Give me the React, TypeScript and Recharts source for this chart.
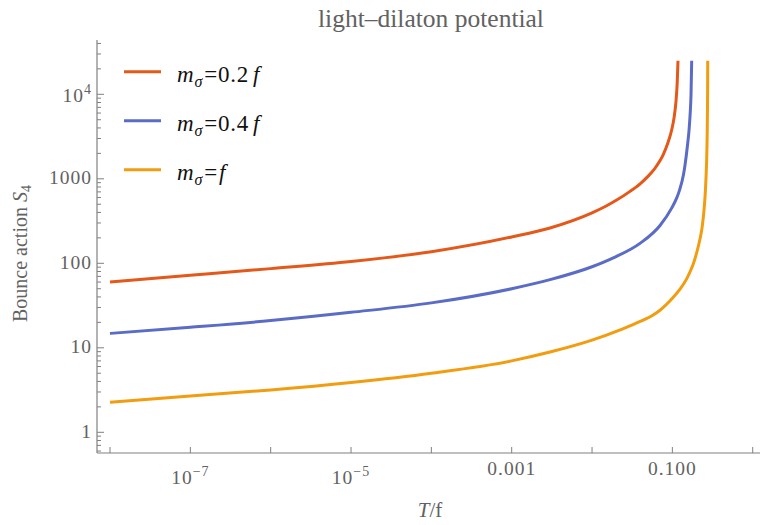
import React from 'react';
import { LineChart, Line, XAxis, YAxis, Legend } from 'recharts';

// ---- data -------------------------------------------------------------
// Temperature T/f samples and bounce action S4 for each dilaton mass.
const tLight = [1e-8, 1e-7, 1e-6, 1e-5, 1e-4, 1e-3, 3e-3, 1e-2, 0.015, 0.02, 0.03, 0.04, 0.05, 0.06, 0.07, 0.077, 0.088, 0.098, 0.105, 0.111, 0.115, 0.1175];
const sLight = [60, 72, 86.5, 105, 137, 205, 262, 395, 476, 556, 715, 879, 1075, 1313, 1630, 1935, 2667, 3780, 5300, 8300, 14000, 25000];

const tMid = [1e-8, 1e-7, 1e-6, 1e-5, 1e-4, 1e-3, 3e-3, 1e-2, 0.0184, 0.0395, 0.0702, 0.098, 0.113, 0.122, 0.137, 0.1436, 0.155, 0.161, 0.166, 0.1707, 0.174];
const sMid = [14.8, 17.5, 21, 26.3, 34, 50, 64, 91, 116, 172, 280, 450, 590, 720, 1100, 1450, 2600, 3700, 5600, 10000, 25000];

const tHeavy = [1e-8, 1e-7, 1e-6, 1e-5, 1e-4, 1e-3, 3e-3, 1e-2, 0.0224, 0.0398, 0.0583, 0.0695, 0.1, 0.1245, 0.15, 0.174, 0.182, 0.2, 0.221, 0.235, 0.2494, 0.2574, 0.263, 0.2678, 0.2715, 0.2737, 0.2748, 0.2755];
const sHeavy = [2.27, 2.69, 3.17, 3.88, 5.0, 7.0, 8.9, 12.3, 16.3, 20.5, 24.6, 27.6, 38.5, 49.5, 65, 88, 98, 132, 195, 270, 460, 700, 1100, 1800, 3500, 7000, 12000, 25000];

// Axis ticks and their labels ('' = tick without label)
const xTickValues = [1e-8, 1e-7, 1e-6, 1e-5, 1e-4, 1e-3, 1e-2, 1e-1, 1];
const xTickLabels = ['', '10^\u22127', '', '10^\u22125', '', '0.001', '', '0.100', ''];
const yMajorValues = [1, 10, 100, 1000, 10000];
const yMajorLabels = ['1', '10', '100', '1000', '10^4'];
const yMinorValues = [
  0.6, 0.7, 0.8, 0.9,
  2, 3, 4, 5, 6, 7, 8, 9,
  20, 30, 40, 50, 60, 70, 80, 90,
  200, 300, 400, 500, 600, 700, 800, 900,
  2000, 3000, 4000, 5000, 6000, 7000, 8000, 9000,
  20000, 30000, 40000,
];

const massLabels = ['0.2', '0.4', ''];
const seriesColors = ['#E4581A', '#5A6CC6', '#F29C10'];
const chartTitle = 'light–dilaton potential';

// ---- layout constants -----------------------------------------------
const W = 766;
const H = 525;
const PLOT_TOP = 40;
const Y_AXIS_W = 97;
const X_AXIS_H = 72;
const X_DOMAIN: [number, number] = [Math.pow(10, -8.162), Math.pow(10, 0.1655)];
const Y_DOMAIN: [number, number] = [Math.pow(10, -0.245), Math.pow(10, 4.6426)];

const FONT = "'Liberation Serif', 'Times New Roman', Tinos, 'DejaVu Serif', 'Noto Serif', serif";
const INK = '#626262';
const FRAME = '#808080';
const serifStyle = { fontFamily: FONT } as React.CSSProperties;

const toRows = (ts: number[], ss: number[]) => ts.map((t, i) => ({ t, s: ss[i] }));
const series = [
  { id: 'light', data: toRows(tLight, sLight), color: seriesColors[0], mass: massLabels[0] },
  { id: 'mid', data: toRows(tMid, sMid), color: seriesColors[1], mass: massLabels[1] },
  { id: 'heavy', data: toRows(tHeavy, sHeavy), color: seriesColors[2], mass: massLabels[2] },
];

const near = (a: number, b: number) => Math.abs(a - b) <= Math.abs(b) * 1e-6;

function TickText({ label, x, y, anchor }: { label: string; x: number; y: number; anchor: 'middle' | 'end' }) {
  if (label.includes('^')) {
    const [base, exp] = label.split('^');
    return (
      <text x={x} y={y} textAnchor={anchor} style={serifStyle} fontSize={19.5} fill={INK} letterSpacing={1}>
        {base}
        <tspan dy={-8} fontSize={14}>{exp}</tspan>
      </text>
    );
  }
  return (
    <text x={x} y={y} textAnchor={anchor} style={serifStyle} fontSize={19.5} fill={INK} letterSpacing={1}>
      {label}
    </text>
  );
}

function BottomTick(props: any) {
  const { x, y, payload } = props;
  const idx = xTickValues.findIndex((v) => near(payload.value, v));
  const label = idx >= 0 ? xTickLabels[idx] : '';
  const power = label.includes('^');
  return (
    <g>
      <line x1={x} x2={x} y1={y} y2={y - 6} stroke={FRAME} strokeWidth={1} />
      {label && <TickText label={label} x={x} y={y + (power ? 31 : 22)} anchor="middle" />}
    </g>
  );
}

function TopTick(props: any) {
  const { x, y } = props;
  return <line x1={x} x2={x} y1={y} y2={y + 6} stroke={FRAME} strokeWidth={1} />;
}

function LeftTick(props: any) {
  const { x, y, payload } = props;
  const idx = yMajorValues.findIndex((v) => near(payload.value, v));
  const major = idx >= 0;
  const label = major ? yMajorLabels[idx] : '';
  const power = label.includes('^');
  return (
    <g>
      <line x1={x} x2={x + (major ? 7 : 4)} y1={y} y2={y} stroke={FRAME} strokeWidth={1} />
      {label && <TickText label={label} x={x - 5} y={y + (power ? 7.5 : 5.5)} anchor="end" />}
    </g>
  );
}

function RightTick(props: any) {
  const { x, y, payload } = props;
  const major = yMajorValues.some((v) => near(payload.value, v));
  return <line x1={x} x2={x - (major ? 7 : 4)} y1={y} y2={y} stroke={FRAME} strokeWidth={1} />;
}

// Legend entries plus the chart title, laid over the plot frame
function LegendBox() {
  return (
    <div style={{ position: 'relative', width: 0, height: 0 }}>
      <svg width={760} height={200} style={{ position: 'absolute', left: 0, top: 0, overflow: 'visible' }}>
        <text x={431} y={27} textAnchor="middle" style={serifStyle} fontSize={25.5} fill={INK}>
          {chartTitle}
        </text>
        {series.map((s, i) => {
          const y = 71.7 + i * 49;
          return (
            <g key={s.id}>
              <line x1={124} x2={161} y1={y} y2={y} stroke={s.color} strokeWidth={3} />
              <text x={177} y={y + 10} style={serifStyle} fontSize={23} fill="#111" letterSpacing={0.8}>
                <tspan fontStyle="italic">m</tspan>
                <tspan fontStyle="italic" fontSize={16} dy={5}>σ</tspan>
                <tspan dy={-5} dx={1}>=</tspan>
                {s.mass ? <tspan>{s.mass}</tspan> : null}
                <tspan fontStyle="italic" dx={s.mass ? 4 : 1}>f</tspan>
              </text>
            </g>
          );
        })}
      </svg>
    </div>
  );
}

function XTitle() {
  return (
    <text x={430} y={517} textAnchor="middle" style={serifStyle} fontSize={21} fill={INK}>
      <tspan fontStyle="italic">T</tspan>
      <tspan>/f</tspan>
    </text>
  );
}

function YTitle() {
  return (
    <text
      x={27}
      y={322}
      transform="rotate(-90, 27, 322)"
      textAnchor="start"
      style={serifStyle}
      fontSize={20}
      fill={INK}
    >
      Bounce action <tspan fontStyle="italic">S</tspan>
      <tspan fontSize={14} dy={4}>4</tspan>
    </text>
  );
}

export default function App() {
  return (
    <div style={{ position: 'absolute', left: 0, top: 0, width: 760, height: 525, overflow: 'hidden', background: '#fff' }}>
      <LineChart width={W} height={H} margin={{ top: PLOT_TOP, right: 0, bottom: 0, left: 0 }}>
        <XAxis
          xAxisId="bottom"
          dataKey="t"
          type="number"
          scale="log"
          domain={X_DOMAIN}
          allowDataOverflow
          ticks={xTickValues}
          interval={0}
          height={X_AXIS_H}
          tickSize={0}
          tickMargin={0}
          tickLine={false}
          axisLine={{ stroke: FRAME, strokeWidth: 1.2 }}
          tick={<BottomTick />}
          label={<XTitle />}
        />
        <XAxis
          xAxisId="top"
          orientation="top"
          dataKey="t"
          type="number"
          scale="log"
          domain={X_DOMAIN}
          allowDataOverflow
          ticks={xTickValues}
          interval={0}
          height={0}
          tickSize={0}
          tickMargin={0}
          tickLine={false}
          axisLine={{ stroke: FRAME, strokeWidth: 1.2 }}
          tick={<TopTick />}
        />
        <YAxis
          yAxisId="left"
          dataKey="s"
          type="number"
          scale="log"
          domain={Y_DOMAIN}
          allowDataOverflow
          ticks={[...yMajorValues, ...yMinorValues]}
          interval={0}
          width={Y_AXIS_W}
          tickSize={0}
          tickMargin={0}
          tickLine={false}
          axisLine={{ stroke: FRAME, strokeWidth: 1.2 }}
          tick={<LeftTick />}
          label={<YTitle />}
        />
        <YAxis
          yAxisId="right"
          orientation="right"
          dataKey="s"
          type="number"
          scale="log"
          domain={Y_DOMAIN}
          allowDataOverflow
          ticks={[...yMajorValues, ...yMinorValues]}
          interval={0}
          width={0}
          tickSize={0}
          tickMargin={0}
          tickLine={false}
          axisLine={{ stroke: FRAME, strokeWidth: 1.2 }}
          tick={<RightTick />}
        />
        <Legend content={<LegendBox />} wrapperStyle={{ position: 'absolute', left: 0, top: 0, width: 0, height: 0 }} />
        {series.map((s) => (
          <Line
            key={s.id}
            xAxisId="bottom"
            yAxisId="left"
            data={s.data}
            dataKey="s"
            type="monotone"
            stroke={s.color}
            strokeWidth={3}
            dot={false}
            activeDot={false}
            isAnimationActive={false}
          />
        ))}
      </LineChart>
    </div>
  );
}
